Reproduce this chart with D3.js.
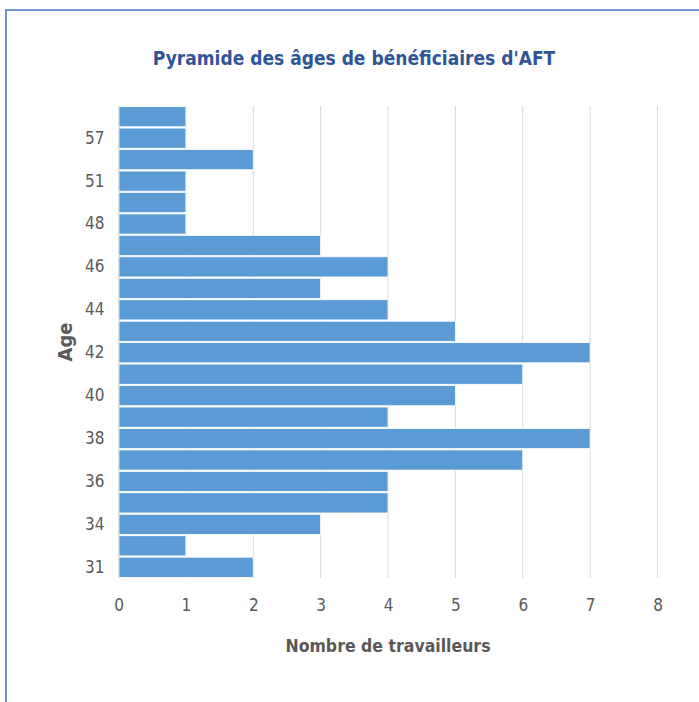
<!DOCTYPE html>
<html><head><meta charset="utf-8">
<script src="https://cdn.jsdelivr.net/npm/d3@7"></script>
<style>body{margin:0;background:#fff}svg{display:block}</style>
</head><body><svg id="c" width="699" height="702"></svg>
<script>
const ages = ["31","33","34","35","36","37","38","39","40","41","42","43","44","45","46","47","48","50","51","55","57","58"];
const counts = [2,1,3,4,4,6,7,4,5,6,7,5,4,3,4,3,1,1,1,2,1,1];
const xTicks = [0,1,2,3,4,5,6,7,8];
const shownAges = ages.filter((d,i)=>i%2===0);
const title = "Pyramide des âges de bénéficiaires d'AFT";
const xTitle = "Nombre de travailleurs";
const yTitle = "Age";

const font = "'Liberation Sans Narrow','DejaVu Sans Condensed','Open Sans',sans-serif";
const svg = d3.select("#c");
svg.append("rect").attr("x",6).attr("y",10).attr("width",720).attr("height",720)
  .attr("fill","#fff").attr("stroke","#4472c4").attr("stroke-width",1.5);

const m = {l:118.5, r:657.5, t:106, b:578};
const x = d3.scaleLinear().domain([0,8]).range([m.l,m.r]);
const y = d3.scaleBand().domain(ages.slice().reverse()).range([m.t,m.b]).paddingInner(0.06).paddingOuter(0.03);

svg.append("g").selectAll("line").data(xTicks).join("line")
  .attr("x1",d=>x(d)).attr("x2",d=>x(d)).attr("y1",m.t).attr("y2",m.b)
  .attr("stroke","#d9d9d9").attr("stroke-width",1);

svg.append("g").selectAll("rect").data(ages).join("rect")
  .attr("x",x(0)).attr("y",d=>y(d))
  .attr("width",(d,i)=>x(counts[i])-x(0)).attr("height",y.bandwidth())
  .attr("fill","#5b9bd5").attr("stroke","#fff").attr("stroke-width",0.8);

const ya = svg.append("g").attr("transform",`translate(${m.l},0)`)
  .call(d3.axisLeft(y).tickValues(shownAges).tickSize(0).tickPadding(14));
ya.select(".domain").attr("stroke","#d9d9d9");
ya.selectAll("text").attr("font-family",font).attr("font-size",17).attr("fill","#595959");

const xa = svg.append("g").attr("transform",`translate(0,${m.b})`)
  .call(d3.axisBottom(x).tickValues(xTicks).tickSize(0).tickPadding(21).tickFormat(d3.format("d")));
xa.select(".domain").remove();
xa.selectAll("text").attr("font-family",font).attr("font-size",17).attr("fill","#595959");

svg.append("text").attr("x",354).attr("y",65).attr("text-anchor","middle")
  .attr("font-family",font).attr("font-weight","bold").attr("font-size",19).attr("fill","#2f5597").text(title);
svg.append("text").attr("x",388).attr("y",652).attr("text-anchor","middle")
  .attr("font-family",font).attr("font-weight","bold").attr("font-size",17.5).attr("fill","#595959").text(xTitle);
svg.append("text").attr("transform","translate(72,342) rotate(-90)").attr("text-anchor","middle")
  .attr("font-family",font).attr("font-weight","bold").attr("font-size",20).attr("fill","#595959").text(yTitle);
</script></body></html>
